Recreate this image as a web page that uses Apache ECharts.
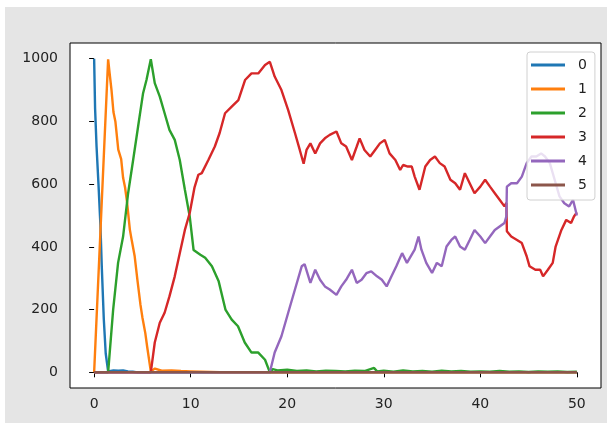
<!DOCTYPE html>
<html>
<head>
<meta charset="utf-8">
<script src="https://cdn.jsdelivr.net/npm/echarts@6/dist/echarts.min.js"></script>
<style>
  html, body { margin: 0; padding: 0; background: #fff; }
  #main { width: 607px; height: 423px; }
</style>
</head>
<body>
<div id="main"></div>
<script>
var names = ['0', '1', '2', '3', '4', '5'];
var colors = ['#1f77b4', '#ff7f0e', '#2ca02c', '#d62728', '#9467bd', '#8c564b'];
var xTicks = [0, 10, 20, 30, 40, 50];
var yTicks = [0, 200, 400, 600, 800, 1000];

// series 0
var t0 = [0, 0.1, 0.25, 0.45, 0.65, 0.8, 1.0, 1.2, 1.45, 1.6, 2.0, 2.5, 3.0, 3.5, 4.0, 4.5, 50];
var v0 = [1000, 840, 720, 600, 470, 330, 170, 60, 3, 8, 6, 5, 6, 3, 2, 0, 0];

// series 1
var t1 = [0, 1.45, 1.6, 1.8, 2.0, 2.2, 2.5, 2.8, 3.0, 3.2, 3.4, 3.7, 3.9, 4.2, 4.5, 4.8, 5.0, 5.3, 5.5, 5.87,
          6.0, 6.3, 7.0, 8.0, 9.0, 10.0, 11.0, 12.0, 13.0, 50];
var v1 = [0, 998, 955, 900, 830, 800, 710, 680, 620, 590, 545, 455, 420, 370, 290, 215, 175, 125, 80, 3,
          8, 12, 5, 6, 4, 3, 2, 1, 0, 0];

// series 2
var t2 = [0, 1.45, 1.97, 2.48, 3.0, 3.52, 4.04, 4.55, 5.07, 5.42, 5.87, 6.28, 6.8, 7.3, 7.8, 8.35, 8.87, 9.4, 9.9,
          10.3, 11.0, 11.5, 12.2, 12.9, 13.6, 14.25, 14.9, 15.6, 16.3, 17.0, 17.7, 18.2,
          18.5, 19, 20, 21, 22, 23, 24, 25, 26, 27, 28, 29, 29.3, 30, 31, 32, 33, 34, 35, 36, 37, 38, 39, 40,
          41, 42, 43, 44, 45, 46, 47, 48, 49, 50];
var v2 = [0, 0, 200, 349, 433, 571, 677, 783, 890, 932, 998, 922, 879, 826, 773, 741, 677, 582, 497,
          390, 375, 365, 338, 290, 200, 168, 147, 95, 63, 63, 40, 0,
          10, 6, 8, 4, 6, 3, 5, 4, 3, 5, 4, 14, 3, 5, 2, 6, 3, 4, 2, 5, 3, 4, 2, 3,
          2, 4, 2, 3, 1, 3, 2, 3, 1, 2];

// series 3
var t3 = [0, 5.87, 6.28, 6.8, 7.3, 7.8, 8.35, 8.87, 9.4, 9.9, 10.4, 10.8, 11.15, 11.83, 12.5, 13.0, 13.56, 14.25,
          14.94, 15.63, 16.3, 17.0, 17.7, 18.2, 18.7, 19.4, 20.1, 20.8, 21.3, 21.7, 22.0, 22.4, 22.9, 23.4, 23.9,
          24.4, 25.1, 25.6, 26.1, 26.7, 27.2, 27.5, 28.0, 28.6, 29.1, 29.6, 30.1, 30.6, 31.2, 31.7, 32.0, 32.5,
          32.9, 33.2, 33.7, 34.3, 34.8, 35.3, 35.8, 36.3, 36.9, 37.4, 37.9, 38.4, 38.9, 39.4, 40.0, 40.5, 41.0,
          41.5, 42.0, 42.5, 42.7, 42.75, 43.2, 43.8, 44.3, 44.8, 45.1, 45.7, 46.2, 46.5, 47.0, 47.5, 47.8, 48.4,
          48.9, 49.4, 49.7, 50];
var v3 = [0, 0, 95, 158, 190, 242, 306, 380, 454, 508, 590, 630, 635, 677, 720, 763, 826, 847,
          868, 932, 953, 953, 980, 990, 943, 900, 836, 763, 709, 665, 709, 730, 698, 730, 746,
          757, 768, 730, 720, 677, 720, 746, 709, 688, 709, 730, 741, 698, 677, 645, 661, 656,
          656, 624, 582, 656, 677, 688, 667, 656, 614, 603, 582, 635, 603, 571, 592, 614, 592,
          571, 550, 529, 540, 450, 433, 422, 412, 370, 338, 327, 327, 306, 327, 349, 401, 454,
          486, 476, 497, 510];

// series 4
var t4 = [0, 18.2, 18.7, 19.4, 20.1, 20.8, 21.5, 21.8, 22.4, 22.9, 23.4, 23.9, 24.4, 25.1, 25.6, 26.1, 26.7,
          27.2, 27.7, 28.2, 28.7, 29.3, 29.8, 30.3, 30.8, 31.3, 31.9, 32.4, 32.7, 33.2, 33.6, 33.9, 34.4, 35.0,
          35.5, 36.0, 36.5, 37.0, 37.4, 37.9, 38.4, 38.9, 39.4, 40.0, 40.5, 41.0, 41.5, 42.0, 42.5, 42.7, 42.75,
          43.2, 43.8, 44.3, 44.8, 45.3, 45.8, 46.3, 46.7, 47.2, 47.7, 48.2, 48.7, 49.2, 49.6, 50];
var v4 = [0, 0, 63, 115, 190, 264, 338, 345, 285, 327, 295, 274, 264, 247, 274, 295, 327,
          285, 295, 316, 322, 306, 295, 274, 306, 338, 380, 349, 365, 391, 433, 391, 349, 317,
          349, 338, 401, 422, 433, 401, 391, 422, 454, 433, 412, 433, 454, 465, 476, 497, 592,
          603, 603, 624, 667, 688, 688, 698, 688, 667, 614, 561, 539, 529, 550, 500];

// series 5
var t5 = [0, 50];
var v5 = [0, 0];

var times = [t0, t1, t2, t3, t4, t5];
var values = [v0, v1, v2, v3, v4, v5];

var font = 'DejaVu Sans';
var chart = echarts.init(document.getElementById('main'));

var series = names.map(function (n, i) {
  return {
    name: n,
    type: 'line',
    data: times[i].map(function (t, k) { return [t, values[i][k]]; }),
    showSymbol: false,
    symbol: 'none',
    lineStyle: { width: 2.4, color: colors[i] },
    itemStyle: { color: colors[i] },
    animation: false
  };
});

chart.setOption({
  backgroundColor: '#e5e5e5',
  animation: false,
  graphic: [
    { type: 'rect', shape: { x: 0, y: 0, width: 607, height: 7 }, style: { fill: '#fff' }, silent: true },
    { type: 'rect', shape: { x: 0, y: 0, width: 5, height: 423 }, style: { fill: '#fff' }, silent: true }
  ],
  grid: {
    left: 70, top: 43, right: 6, bottom: 35,
    show: true, backgroundColor: '#fff', borderColor: '#000', borderWidth: 1
  },
  legend: {
    left: 527, top: 52,
    orient: 'vertical',
    data: names,
    icon: 'rect',
    itemWidth: 34, itemHeight: 3, itemGap: 8,
    backgroundColor: 'rgba(255,255,255,0.8)',
    borderColor: '#d0d0d0', borderWidth: 1, borderRadius: 3,
    padding: [5, 8, 7, 4],
    textStyle: { fontFamily: font, fontSize: 14, color: '#222', lineHeight: 16, padding: [0, 0, 0, 8] }
  },
  xAxis: {
    type: 'value', min: -2.5, max: 52.5,
    axisLine: { show: false },
    splitLine: { show: false },
    axisTick: { show: true, length: 5, lineStyle: { color: '#000' }, customValues: xTicks },
    axisLabel: { fontFamily: font, fontSize: 14, color: '#222', margin: 9, customValues: xTicks }
  },
  yAxis: {
    type: 'value', min: -50, max: 1050,
    axisLine: { show: false },
    splitLine: { show: false },
    axisTick: { show: true, length: 5, lineStyle: { color: '#000' }, customValues: yTicks },
    axisLabel: {
      fontFamily: font, fontSize: 14, color: '#222', margin: 12, customValues: yTicks,
      formatter: function (v) { return String(v); }
    }
  },
  series: series
});
</script>
</body>
</html>
